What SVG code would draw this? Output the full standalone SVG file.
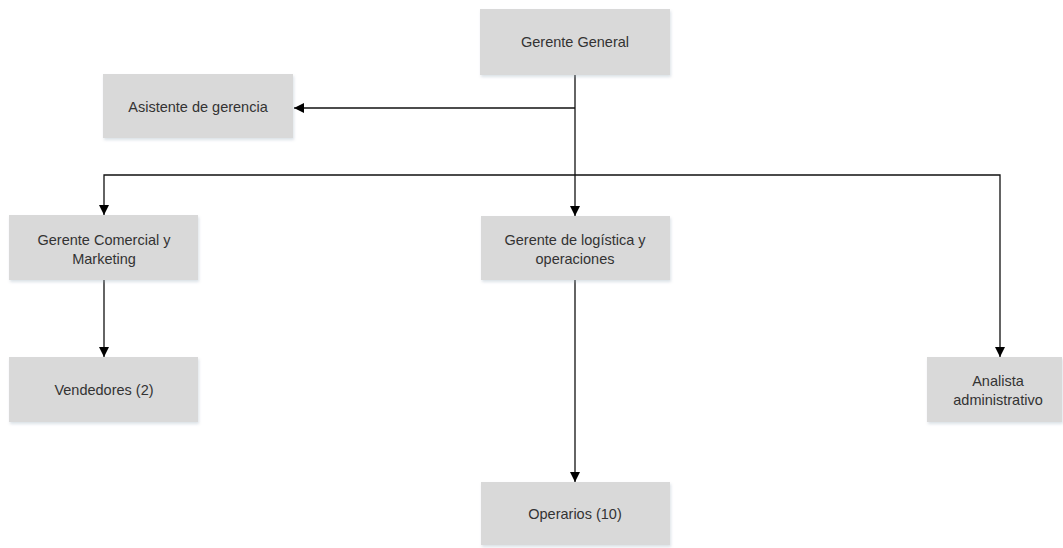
<svg xmlns="http://www.w3.org/2000/svg" width="1063" height="548" viewBox="0 0 1063 548">
<style>
.box{fill:#d9d9d9;filter:url(#sh)}
.t{font-family:"Liberation Sans",Arial,sans-serif;font-size:14.5px;fill:#333;text-anchor:middle}
.c{stroke:#111;stroke-width:1.3;fill:none}
</style>
<defs>
<filter id="sh" x="-10%" y="-10%" width="120%" height="130%">
<feDropShadow dx="1" dy="2" stdDeviation="1.5" flood-color="#9ab" flood-opacity="0.35"/>
</filter>
<marker id="ar" viewBox="0 0 10 10" refX="10" refY="5" markerWidth="10" markerHeight="10" markerUnits="userSpaceOnUse" orient="auto">
<path d="M0,0 L10,5 L0,10 z" fill="#000"/>
</marker>
</defs>
<g id="connectors">
<path class="c" d="M575,75 V216" marker-end="url(#ar)"/>
<path class="c" d="M575,108 H294" marker-end="url(#ar)"/>
<path class="c" d="M575,175 H104 V215" marker-end="url(#ar)"/>
<path class="c" d="M575,175 H1000 V357" marker-end="url(#ar)"/>
<path class="c" d="M104,280 V357" marker-end="url(#ar)"/>
<path class="c" d="M575,280 V482" marker-end="url(#ar)"/>
</g>
<g id="gerente-general"><rect class="box" x="480" y="9" width="190" height="66"/><text class="t" x="575" y="47">Gerente General</text></g>
<g id="asistente"><rect class="box" x="103" y="74" width="190" height="64"/><text class="t" x="198" y="112">Asistente de gerencia</text></g>
<g id="gerente-comercial"><rect class="box" x="9" y="215" width="189" height="65"/><text class="t" x="104" y="245">Gerente Comercial y</text><text class="t" x="104" y="264">Marketing</text></g>
<g id="gerente-logistica"><rect class="box" x="481" y="216" width="189" height="64"/><text class="t" x="575" y="245">Gerente de logística y</text><text class="t" x="575" y="264">operaciones</text></g>
<g id="vendedores"><rect class="box" x="9" y="357" width="189" height="65"/><text class="t" x="104" y="395">Vendedores (2)</text></g>
<g id="analista"><rect class="box" x="927" y="357" width="135" height="65"/><text class="t" x="998" y="386">Analista</text><text class="t" x="998" y="405">administrativo</text></g>
<g id="operarios"><rect class="box" x="481" y="482" width="189" height="63"/><text class="t" x="575" y="519">Operarios (10)</text></g>
</svg>
